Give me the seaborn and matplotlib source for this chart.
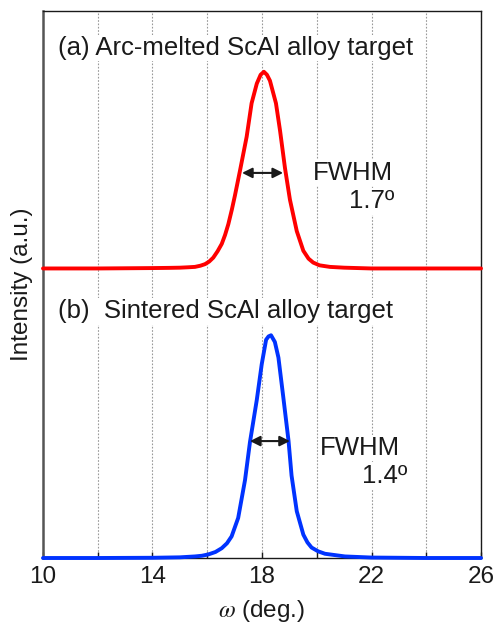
import numpy as np
import pandas as pd
import seaborn as sns
import matplotlib.pyplot as plt

# 讀圖取得的資料 (omega in deg., intensity normalized to peak = 1)
omega_a = [10, 12, 14, 14.6, 15.0, 15.3, 15.55, 15.75, 15.92, 16.07, 16.22, 16.38, 16.53, 16.65,
           16.77, 16.9, 17.01, 17.2, 17.44, 17.62, 17.81, 17.95, 18.07, 18.18, 18.29, 18.51,
           18.66, 18.84, 19.02, 19.27, 19.51, 19.7, 19.87, 20.1, 20.48, 21.0, 21.5, 22, 24, 26]
inten_a = [0, 0, 0.002, 0.003, 0.004, 0.006, 0.008, 0.014, 0.022, 0.035, 0.055, 0.088, 0.125, 0.17,
           0.225, 0.30, 0.37, 0.50, 0.67, 0.84, 0.94, 0.985, 1.0, 0.985, 0.955, 0.84,
           0.70, 0.51, 0.35, 0.19, 0.09, 0.05, 0.03, 0.016, 0.008, 0.004, 0.002, 0, 0, 0]

omega_b = [10, 12, 14, 15.0, 15.55, 15.8, 16.04, 16.3, 16.53, 16.72, 16.89, 17.13, 17.38, 17.56,
           17.81, 17.99, 18.15, 18.24, 18.33, 18.47, 18.6, 18.78, 18.97, 19.08, 19.27, 19.51,
           19.66, 19.81, 20.05, 20.3, 21.03, 22, 24, 26]
inten_b = [0, 0, 0.001, 0.003, 0.007, 0.010, 0.016, 0.027, 0.044, 0.066, 0.097, 0.18, 0.35, 0.52,
           0.71, 0.87, 0.98, 0.995, 1.0, 0.97, 0.90, 0.72, 0.525, 0.37, 0.21, 0.105,
           0.07, 0.047, 0.03, 0.019, 0.007, 0.002, 0, 0]

labels = ['(a) Arc-melted ScAl alloy target', '(b)  Sintered ScAl alloy target']
fwhm_text = ['1.7º', '1.4º']
fwhm_ends = [(17.27, 18.77), (17.56, 19.02)]  # arrow ends

x_ticks = [10, 14, 18, 22, 26]
x_minor = [12, 16, 20, 24]

# 顯示用的偏移與縮放
offset_a, scale_a = 1.30, 0.883

sns.set_theme(style='white')
plt.rcParams['font.family'] = ['Liberation Sans', 'DejaVu Sans']
plt.rcParams['mathtext.fontset'] = 'stix'
plt.rcParams['text.color'] = 'k'
plt.rcParams['axes.labelcolor'] = 'k'
plt.rcParams['xtick.color'] = 'k'

df_a = pd.DataFrame({'omega': omega_a, 'I': np.array(inten_a) * scale_a + offset_a})
df_b = pd.DataFrame({'omega': omega_b, 'I': inten_b})

fig = plt.figure(figsize=(4.98, 6.25), dpi=100)
ax = fig.add_axes([0.0863, 0.1072, 0.8796, 0.8752])

sns.lineplot(data=df_a, x='omega', y='I', color='#ff0000', lw=2.8, estimator=None, ax=ax, zorder=3)
sns.lineplot(data=df_b, x='omega', y='I', color='#0033ff', lw=2.8, estimator=None, ax=ax, zorder=3)
for ln in ax.lines:
    ln.set_clip_on(False)
    ln.set_solid_joinstyle('round')

ax.set_xlim(10, 26)
ax.set_ylim(0, 2.456)
ax.set_xticks(x_ticks)
ax.set_xticks(x_minor, minor=True)
ax.set_yticks([])
ax.tick_params(axis='x', which='both', direction='in', length=4, width=1, color='k',
               labelsize=17.5, labelcolor='k', pad=6, bottom=True)
ax.xaxis.grid(True, which='both', color='#999999', lw=0.8, ls=(0, (1.5, 1.5)), zorder=0)
ax.set_axisbelow(True)

for s in ['top', 'right', 'bottom']:
    ax.spines[s].set_color('k')
    ax.spines[s].set_linewidth(1.0)
ax.spines['left'].set_color('#555555')
ax.spines['left'].set_linewidth(1.8)

ax.set_xlabel(r'$\omega$ (deg.)', fontsize=17.5, labelpad=7, color='k')
ax.set_ylabel('Intensity (a.u.)', fontsize=17.5, labelpad=7, color='k')

box = dict(facecolor='white', edgecolor='none', pad=1)
ax.text(10.55, 2.259, labels[0], fontsize=18.5, va='baseline', ha='left', bbox=box, zorder=2)
ax.text(10.55, 1.076, labels[1], fontsize=18.5, va='baseline', ha='left', bbox=box, zorder=2)
ax.text(19.86, 1.697, 'FWHM', fontsize=18.5, va='baseline', ha='left', bbox=box, zorder=2)
ax.text(22.82, 1.570, fwhm_text[0], fontsize=18.5, va='baseline', ha='right', bbox=box, zorder=2)
ax.text(20.12, 0.4625, 'FWHM', fontsize=18.5, va='baseline', ha='left', bbox=box, zorder=2)
ax.text(23.31, 0.335, fwhm_text[1], fontsize=18.5, va='baseline', ha='right', bbox=box, zorder=2)

arrow = dict(arrowstyle='<|-|>', color='k', lw=1.5, mutation_scale=15, shrinkA=0, shrinkB=0)
ax.annotate('', xy=(fwhm_ends[0][0], 1.729), xytext=(fwhm_ends[0][1], 1.729), arrowprops=arrow, zorder=4)
ax.annotate('', xy=(fwhm_ends[1][0], 0.525), xytext=(fwhm_ends[1][1], 0.525), arrowprops=arrow, zorder=4)

fig.savefig('out.png', dpi=100)
